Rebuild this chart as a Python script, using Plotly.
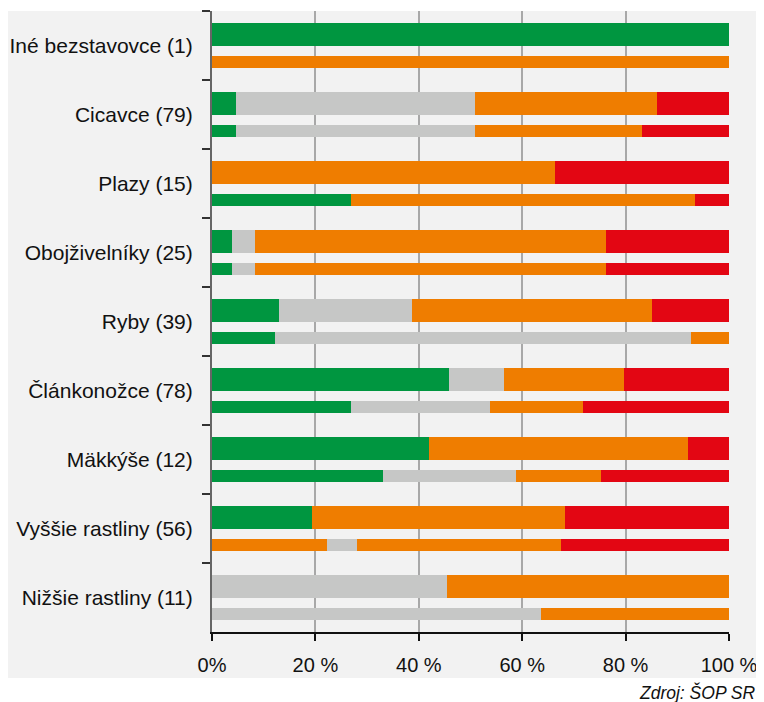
import plotly.graph_objects as go

categories = ["Iné bezstavovce (1)", "Cicavce (79)", "Plazy (15)", "Obojživelníky (25)",
              "Ryby (39)", "Článkonožce (78)", "Mäkkýše (12)", "Vyššie rastliny (56)",
              "Nižšie rastliny (11)"]

# upper (thick) bars, % of species
upper_green  = [100, 4.7, 0, 3.9, 13.0, 45.8, 42.0, 19.3, 0]
upper_gray   = [0, 46.2, 0, 4.4, 25.7, 10.7, 0, 0, 45.4]
upper_orange = [0, 35.2, 66.3, 67.9, 46.4, 23.2, 50.1, 49.0, 54.6]
upper_red    = [0, 13.9, 33.7, 23.8, 14.9, 20.3, 7.9, 31.7, 0]

# lower (thin) bars, % of species
lower_green    = [0, 4.7, 26.9, 3.9, 12.2, 26.9, 33.1, 0, 0]
lower_orange_a = [0, 0, 0, 0, 0, 0, 0, 22.3, 0]
lower_gray     = [0, 46.2, 0, 4.4, 80.4, 26.9, 25.7, 5.7, 63.6]
lower_orange   = [100, 32.3, 66.5, 67.9, 7.4, 18.0, 16.4, 39.5, 36.4]
lower_red      = [0, 16.8, 6.6, 23.8, 0, 28.2, 24.8, 32.5, 0]

tick_vals = [0, 20, 40, 60, 80, 100]
tick_text = ["0%", "20 %", "40 %", "60 %", "80 %", "100 %"]

GREEN, GRAY, ORANGE, RED = "#009640", "#c6c7c6", "#ef7d00", "#e30613"
BG = "#f2f2f2"

fig = go.Figure()

def add(vals, color, axis, offset, width):
    fig.add_trace(go.Bar(
        y=categories, x=vals, orientation="h", yaxis=axis,
        marker=dict(color=color, line=dict(width=0)),
        offset=offset, width=width, showlegend=False, hoverinfo="skip"))

for v, c in [(upper_green, GREEN), (upper_gray, GRAY), (upper_orange, ORANGE), (upper_red, RED)]:
    add(v, c, "y", -0.32, 0.32)
for v, c in [(lower_green, GREEN), (lower_orange_a, ORANGE), (lower_gray, GRAY),
             (lower_orange, ORANGE), (lower_red, RED)]:
    add(v, c, "y2", 0.15, 0.17)

FONT = "Liberation Sans, Arial, Helvetica, sans-serif"

# page has an 8px body margin; figure is sized so it ends at the window edge
W, H = 756, 694
L, R, T, B = 204, 35, 3, 70
PW, PH = W - L - R, H - T - B

fig.update_layout(
    width=W, height=H,
    margin=dict(l=L, r=R, t=T, b=B),
    barmode="stack",
    paper_bgcolor="white", plot_bgcolor=BG,
    font=dict(family=FONT, size=20, color="#111111"),
    xaxis=dict(range=[0, 100], tickvals=tick_vals, ticktext=tick_text,
               showgrid=True, gridcolor="#a8a8a8", gridwidth=1.5, zeroline=False,
               showline=True, linecolor="#111111", linewidth=1.5,
               ticks="outside", ticklen=7, tickwidth=1.5, tickcolor="#111111",
               ticklabelstandoff=7, tickfont=dict(size=20)),
    yaxis=dict(type="category", categoryorder="array", categoryarray=categories,
               range=[8.5, -0.5], showgrid=False, zeroline=False,
               showline=True, linecolor="#666666", linewidth=2,
               ticks="outside", tickson="boundaries", ticklen=8, tickwidth=1.5,
               tickcolor="#333333", ticklabelstandoff=13, tickfont=dict(size=21)),
    yaxis2=dict(type="category", categoryorder="array", categoryarray=categories,
                range=[8.5, -0.5], overlaying="y", visible=False, showgrid=False),
    shapes=[dict(type="rect", xref="paper", yref="paper",
                 x0=-L / PW, x1=(W - L) / PW,
                 y0=-46 / PH, y1=1.0,
                 fillcolor=BG, line=dict(width=0), layer="below")],
    annotations=[dict(text="<i>Zdroj: ŠOP SR</i>", xref="paper", yref="paper",
                      x=(749 - L) / PW, y=-60 / PH,
                      xanchor="right", yanchor="middle", showarrow=False,
                      font=dict(size=17.5, color="#111111"))],
)

fig.write_html("out.html")
